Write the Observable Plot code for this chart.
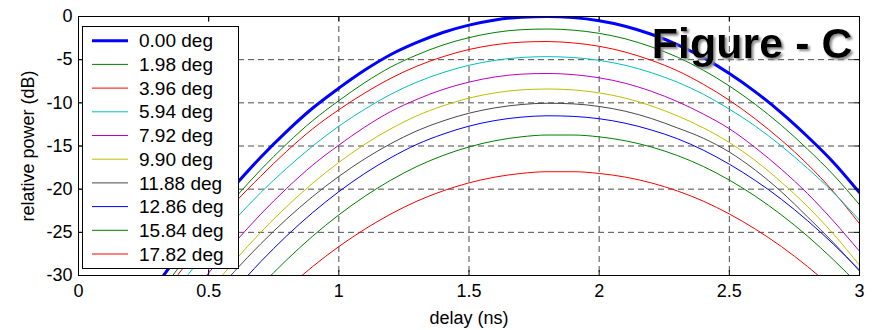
<!DOCTYPE html>
<html><head><meta charset="utf-8">
<script src="https://cdn.jsdelivr.net/npm/d3@7"></script>
<script src="https://cdn.jsdelivr.net/npm/@observablehq/plot@0.6"></script>
<style>
html,body{margin:0;padding:0;background:#fff;}
#chart{position:relative;width:877px;height:330px;}
</style></head><body><div id="chart"></div>
<script>
const delay = [0.3,0.4,0.5,0.6,0.7,0.8,0.9,1.0,1.1,1.2,1.3,1.4,1.5,1.6,1.7,1.8,1.9,2.0,2.1,2.2,2.3,2.4,2.5,2.6,2.7,2.8,2.9,3.0];
const angleLabels = ["0.00 deg","1.98 deg","3.96 deg","5.94 deg","7.92 deg","9.90 deg","11.88 deg","12.86 deg","15.84 deg","17.82 deg"];
const p000 = [-31.1,-27.0,-23.1,-19.6,-16.3,-13.3,-10.6,-8.3,-6.2,-4.4,-3.0,-1.85,-1.0,-0.4,-0.08,0,-0.13,-0.5,-1.13,-2.06,-3.25,-4.77,-6.6,-8.73,-11.16,-13.9,-16.9,-20.4];
const p198 = [-32.55,-28.45,-24.55,-21.05,-17.75,-14.75,-12.05,-9.75,-7.65,-5.85,-4.45,-3.3,-2.45,-1.85,-1.53,-1.45,-1.58,-1.95,-2.58,-3.51,-4.7,-6.22,-8.05,-10.18,-12.61,-15.35,-18.35,-21.8];
const p396 = [-33.2,-29.2,-25.3,-21.6,-18.5,-15.6,-13.0,-10.8,-8.85,-7.15,-5.75,-4.66,-3.82,-3.27,-2.97,-2.9,-3.06,-3.45,-4.12,-5.07,-6.28,-7.85,-9.7,-11.87,-14.33,-17.1,-20.3,-24.0];
const p594 = [-34.6,-30.7,-26.95,-23.55,-20.4,-17.57,-15.0,-12.7,-10.73,-9.0,-7.6,-6.5,-5.65,-5.08,-4.75,-4.65,-4.75,-5.08,-5.65,-6.5,-7.6,-9.0,-10.73,-12.7,-15.0,-17.57,-20.4,-23.6];
const p792 = [null,-33.6,-29.7,-26.2,-22.9,-19.9,-17.2,-14.9,-12.8,-11.0,-9.6,-8.45,-7.6,-7.0,-6.68,-6.6,-6.73,-7.1,-7.73,-8.66,-9.85,-11.3,-13.0,-15.2,-17.7,-20.5,-23.7,-27.2];
const p990 = [null,null,-31.9,-28.3,-25.0,-22.0,-19.3,-16.9,-14.8,-13.0,-11.5,-10.35,-9.45,-8.85,-8.5,-8.4,-8.5,-8.85,-9.45,-10.35,-11.5,-12.9,-14.6,-16.7,-19.2,-22.0,-25.2,-28.8];
const p1188 = [null,null,-32.95,-29.5,-26.33,-23.45,-20.84,-18.52,-16.48,-14.72,-13.24,-12.1,-11.2,-10.58,-10.2,-10.05,-10.12,-10.42,-10.97,-11.81,-12.9,-14.1,-15.7,-17.8,-20.3,-23.2,-26.2,-29.5];
const p1286 = [null,null,null,-31.7,-28.4,-25.4,-22.7,-20.29,-18.17,-16.35,-14.81,-13.63,-12.7,-12.05,-11.66,-11.5,-11.57,-11.84,-12.36,-13.14,-14.15,-15.48,-17.11,-19.0,-21.17,-23.64,-26.38,-29.38];
const p1584 = [null,null,null,null,-31.19,-28.18,-25.43,-22.98,-20.82,-18.95,-17.37,-16.1,-15.11,-14.39,-13.94,-13.73,-13.73,-13.94,-14.39,-15.11,-16.1,-17.37,-18.95,-20.82,-22.98,-25.43,-28.18,-31.19];
const p1782 = [null,null,null,null,null,-31.52,-28.95,-26.65,-24.63,-22.87,-21.39,-20.2,-19.27,-18.6,-18.18,-17.98,-17.98,-18.18,-18.6,-19.27,-20.2,-21.39,-22.87,-24.63,-26.65,-28.95,-31.52,null];
const xTicks = [0,0.5,1,1.5,2,2.5,3];
const xTickLabels = ["0","0.5","1","1.5","2","2.5","3"];
const yTicks = [0,-5,-10,-15,-20,-25,-30];
const yTickLabels = ["0","-5","-10","-15","-20","-25","-30"];
const xLabel = "delay (ns)";
const yLabel = "relative power (dB)";
const titleText = "Figure - C";

const series = [p000,p198,p396,p594,p792,p990,p1188,p1286,p1584,p1782];
const colors = ["#0000ff","#008000","#ff0000","#00bfbf","#bf00bf","#bfbf00","#4a4a4a","#0000ff","#008000","#ff0000"];
const widths = [3,1,1,1,1,1,1,1,1,1];

const W = 877, H = 330, mL = 78, mR = 18, mT = 16, mB = 55;
const fw = W - mL - mR, fh = H - mT - mB;

const lineMarks = series.map((vals, i) => {
  const rows = [];
  vals.forEach((v, j) => { if (v != null) rows.push({x: delay[j], y: v}); });
  return Plot.line(rows, {x: "x", y: "y", stroke: colors[i], strokeWidth: widths[i], curve: "monotone-x", clip: true});
});

const font = "'Liberation Sans', Arial, Helvetica, sans-serif";
const plot = Plot.plot({
  width: W, height: H,
  marginLeft: mL, marginRight: mR, marginTop: mT, marginBottom: mB,
  style: {fontFamily: font, fontSize: "18px", color: "#000", background: "#fff", overflow: "visible"},
  x: {domain: [0, 3]},
  y: {domain: [-30, 0]},
  marks: [
    Plot.gridX(xTicks, {stroke: "#000", strokeOpacity: 0.7, strokeDasharray: "6,4"}),
    Plot.gridY(yTicks, {stroke: "#000", strokeOpacity: 0.7, strokeDasharray: "6,4"}),
    ...lineMarks,
    Plot.tickY(yTicks, {y: d => d, insetRight: fw - 5, stroke: "#000"}),
    Plot.tickY(yTicks, {y: d => d, insetLeft: fw - 5, stroke: "#000"}),
    Plot.tickX(xTicks, {x: d => d, insetBottom: fh - 5, stroke: "#000"}),
    Plot.tickX(xTicks, {x: d => d, insetTop: fh - 5, stroke: "#000"}),
    Plot.frame({stroke: "#000"}),
    Plot.axisY(yTicks, {tickSize: 0, tickPadding: 6, fontSize: 18, label: null, tickFormat: d => yTickLabels[yTicks.indexOf(d)]}),
    Plot.axisX(xTicks, {tickSize: 0, tickPadding: 9, fontSize: 18, label: null, tickFormat: d => xTickLabels[xTicks.indexOf(d)]}),
    Plot.text([xLabel], {text: d => d, frameAnchor: "bottom", dy: 43, lineAnchor: "middle", textAnchor: "middle", fontSize: 18}),
    Plot.text([yLabel], {text: d => d, frameAnchor: "left", dx: -50, rotate: -90, lineAnchor: "middle", textAnchor: "middle", fontSize: 18}),
    Plot.text([titleText], {text: d => d, frameAnchor: "top-right", textAnchor: "end", lineAnchor: "bottom", dx: -7, dy: 41, fontSize: 43, fontWeight: "bold", fill: "#000"})
  ]
});
document.getElementById("chart").appendChild(plot);

const svg = d3.select(plot);
// drop shadow for the title text
const defs = svg.append("defs");
const flt = defs.append("filter").attr("id", "titleShadow").attr("x", "-10%").attr("y", "-20%").attr("width", "130%").attr("height", "150%");
flt.append("feDropShadow").attr("dx", 2).attr("dy", 2).attr("stdDeviation", 0.8).attr("flood-color", "#8a8a8a").attr("flood-opacity", 1);
svg.selectAll("text").filter(function() { return this.textContent === titleText; }).attr("filter", "url(#titleShadow)");

// legend box (MATLAB style)
const lg = svg.append("g").attr("font-family", font).attr("font-size", 19).attr("text-anchor", "start");
const lx = mL + 4.5, ly = mT + 10.5, lw = 156, lh = 242, rowH = 23.7, firstRow = 24.7;
lg.append("rect").attr("x", lx).attr("y", ly).attr("width", lw).attr("height", lh)
  .attr("fill", "#fff").attr("stroke", "#000").attr("stroke-width", 1);
angleLabels.forEach((lab, i) => {
  const y = mT + firstRow + i * rowH;
  lg.append("line").attr("x1", lx + 9.5).attr("x2", lx + 45.5).attr("y1", y).attr("y2", y)
    .attr("stroke", colors[i]).attr("stroke-width", widths[i]);
  lg.append("text").attr("x", lx + 56.5).attr("y", y).attr("dy", "0.35em").attr("text-anchor", "start").attr("fill", "#000").text(lab);
});
</script></body></html>
